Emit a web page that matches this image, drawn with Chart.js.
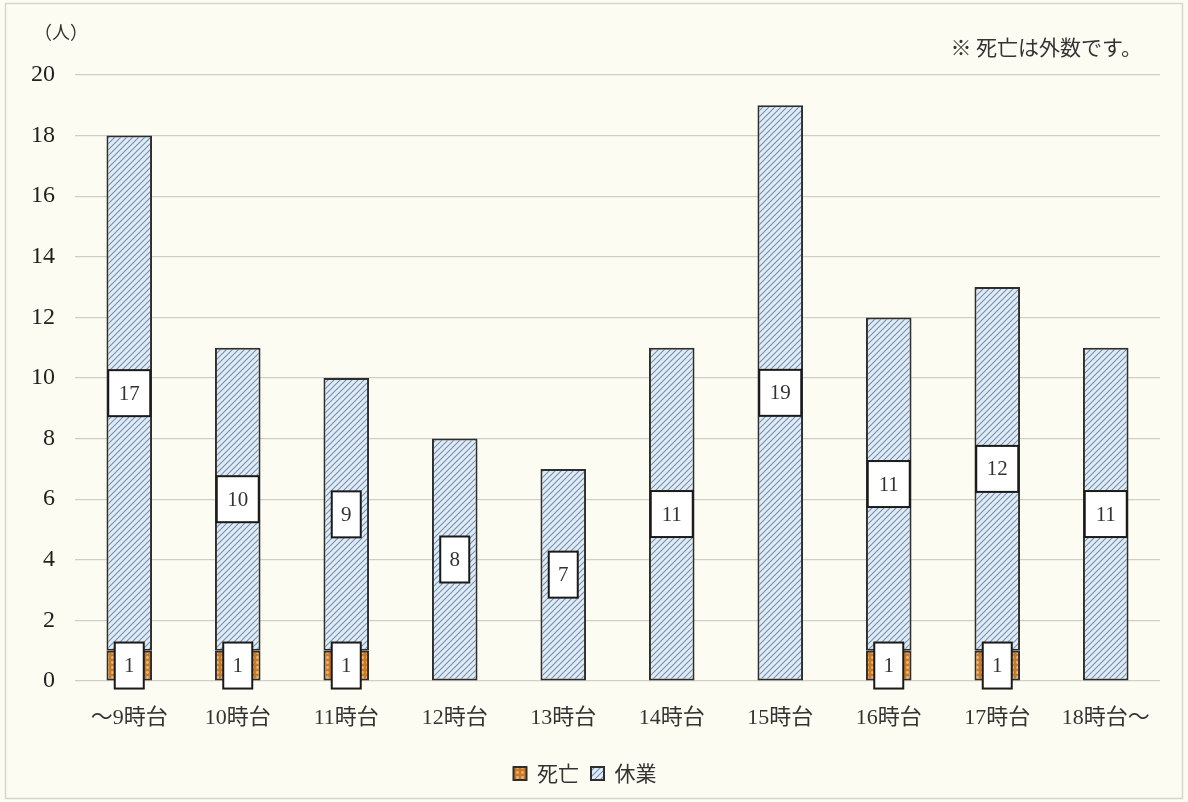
<!DOCTYPE html>
<html>
<head>
<meta charset="utf-8">
<script src="https://cdn.jsdelivr.net/npm/chart.js@4/dist/chart.umd.min.js"></script>
<style>
html,body{margin:0;padding:0;background:#fcfcf2;}
#wrap{width:1188px;height:802px;position:relative;}
</style>
</head>
<body>
<div id="wrap"><canvas id="c" width="1188" height="802"></canvas></div>
<script>
const categories = ['〜9時台','10時台','11時台','12時台','13時台','14時台','15時台','16時台','17時台','18時台〜'];
const deaths = [1,1,1,0,0,0,0,1,1,0];
const absences = [17,10,9,8,7,11,19,11,12,11];
const yTicks = [0,2,4,6,8,10,12,14,16,18,20];
const unitLabel = '（人）';
const noteText = '※ 死亡は外数です。';
const seriesNames = ['死亡','休業'];

function hatchPattern(){
  const c = document.createElement('canvas'); c.width = 6; c.height = 6;
  const g = c.getContext('2d');
  g.fillStyle = '#e2ebf3'; g.fillRect(0,0,6,6);
  g.strokeStyle = '#7394b6'; g.lineWidth = 1.2;
  g.beginPath();
  g.moveTo(0,6); g.lineTo(6,0);
  g.moveTo(-3,3); g.lineTo(3,-3);
  g.moveTo(3,9); g.lineTo(9,3);
  g.stroke();
  return g.createPattern(c,'repeat');
}
function dotPattern(){
  const c = document.createElement('canvas'); c.width = 5; c.height = 5;
  const g = c.getContext('2d');
  g.fillStyle = '#c77a2c'; g.fillRect(0,0,5,5);
  g.fillStyle = '#f3b763';
  g.beginPath(); g.arc(2.5,2.5,1.4,0,Math.PI*2); g.fill();
  return g.createPattern(c,'repeat');
}

const serif = "'Liberation Serif','Times New Roman','Noto Sans CJK JP',serif";
const mixed = "'Liberation Serif','Noto Sans CJK JP',serif";

const decor = {
  id:'decor',
  beforeDraw(chart){
    const ctx = chart.ctx;
    ctx.save();
    ctx.fillStyle = '#fcfcf2';
    ctx.fillRect(0,0,chart.width,chart.height);
    ctx.strokeStyle = '#d6d6cc'; ctx.lineWidth = 1.5;
    ctx.strokeRect(5.5,3.5,1177,795);
    ctx.restore();
  },
  afterDraw(chart){
    const ctx = chart.ctx;
    ctx.save();
    ctx.fillStyle = '#333';
    ctx.font = "18px 'Noto Sans CJK JP', sans-serif";
    ctx.textBaseline = 'middle';
    ctx.textAlign = 'left';
    ctx.fillText(unitLabel, 34, 32);
    ctx.font = "21px 'Noto Sans CJK JP', sans-serif";
    ctx.textAlign = 'right';
    ctx.fillText(noteText, 1142, 47);
    // value boxes
    chart.data.datasets.forEach((ds, di) => {
      const meta = chart.getDatasetMeta(di);
      meta.data.forEach((el, i) => {
        const v = ds.data[i];
        if (!v) return;
        const cy = (el.y + el.base) / 2;
        const txt = String(v);
        const w = txt.length > 1 ? 42 : 29;
        const h = 46;
        ctx.fillStyle = '#ffffff';
        ctx.fillRect(el.x - w/2, cy - h/2, w, h);
        ctx.strokeStyle = '#1a1a1a'; ctx.lineWidth = 2;
        ctx.strokeRect(el.x - w/2, cy - h/2, w, h);
        ctx.fillStyle = '#333';
        ctx.font = "21px " + serif;
        ctx.textAlign = 'center';
        ctx.textBaseline = 'middle';
        ctx.fillText(txt, el.x, cy + 1);
      });
    });
    ctx.restore();
  }
};

const chart = new Chart(document.getElementById('c'), {
  type:'bar',
  data:{
    labels: categories,
    datasets:[
      {label: seriesNames[0], data: deaths, backgroundColor: dotPattern(), borderColor:'#2e2e2e',
       borderWidth: c => (c.raw ? 2 : 0), borderSkipped:false, stack:'s'},
      {label: seriesNames[1], data: absences, backgroundColor: hatchPattern(), borderColor:'#2e2e2e',
       borderWidth: 2, borderSkipped:false, stack:'s'}
    ]
  },
  options:{
    responsive:false, animation:false, devicePixelRatio:1,
    layout:{padding:{left:10,right:28,top:75,bottom:8}},
    datasets:{bar:{categoryPercentage:1, barPercentage:0.42}},
    scales:{
      x:{stacked:true, grid:{display:false}, border:{display:false},
         ticks:{color:'#333', font:{family:mixed, size:22}, padding:16},
         afterFit(s){ s.height = 70; }},
      y:{stacked:true, min:0, max:20, 
         afterBuildTicks(s){ s.ticks = yTicks.map(v=>({value:v})); },
         afterFit(s){ s.width = 65; },
         grid:{color:'#cfcfc8', lineWidth:1.2, drawTicks:false},
         border:{display:false},
         ticks:{color:'#222', font:{family:serif, size:24}, padding:20}}
    },
    plugins:{
      legend:{position:'bottom', labels:{color:'#333', boxWidth:13, boxHeight:13, padding:12,
              font:{family:"'Noto Sans CJK JP', sans-serif", size:21}}},
      tooltip:{enabled:false}
    }
  },
  plugins:[decor]
});
</script>
</body>
</html>
